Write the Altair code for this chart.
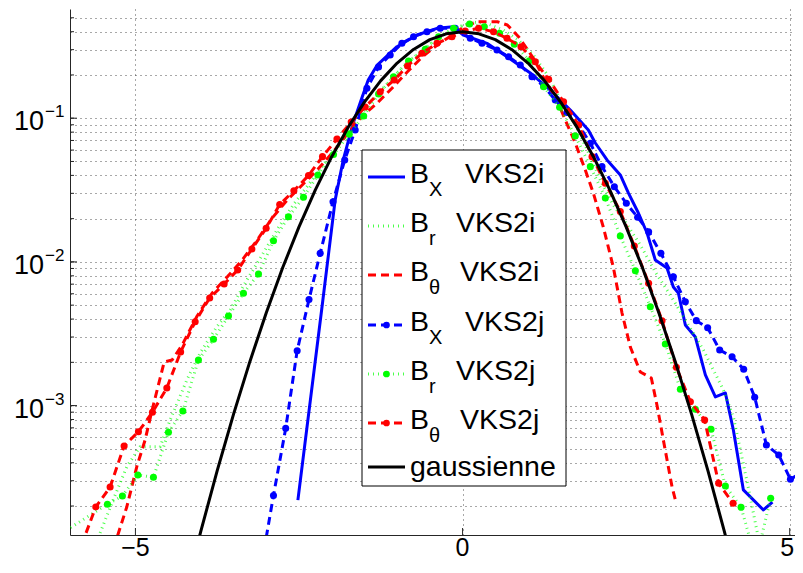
import altair as alt
import pandas as pd

FONT = "Liberation Sans"
BLUE, GREEN, RED, BLACK = "#0000ff", "#00ff00", "#ff0000", "#000000"

# ---------------- data ----------------
# B_X VKS2i (blue solid)
bx_i_x = [-2.517, -2.135, -1.947, -1.824, -1.671, -1.534, -1.442, -1.304, -1.003, -0.697,
          -0.391, -0.142, 0.011, 0.373, 0.679, 1.035, 1.341, 1.647, 1.922, 2.029,
          2.208, 2.411, 2.534, 2.687, 2.820, 2.946, 3.125, 3.222, 3.298, 3.405,
          3.558, 3.711, 3.864, 4.017, 4.139, 4.292, 4.598, 4.736]
bx_i_y = [2.20e-4, 5.43e-3, 0.0270, 0.0512, 0.0927, 0.1406, 0.1845, 0.2344, 0.3145, 0.3793,
          0.4222, 0.4332, 0.3793, 0.3319, 0.2679, 0.2064, 0.1570, 0.1140, 0.0828, 0.0672,
          0.0512, 0.0403, 0.0302, 0.0219, 0.01589, 0.01031, 0.00907, 0.00669, 0.00608, 0.00364,
          0.00300, 0.001633, 0.001148, 0.001224, 6.76e-4, 2.59e-4, 1.877e-4, 2.13e-4]

# B_r VKS2i (green dotted)
br_i_x = [-5.540, -5.341, -5.131, -4.928, -4.622, -4.469, -4.214, -4.011, -3.755, -3.552,
          -3.297, -3.063, -2.818, -2.589, -2.359, -2.130, -1.901, -1.671, -1.442, -1.213,
          -0.983, -0.754, -0.524, -0.295, -0.066, 0.164, 0.393, 0.622, 0.852, 1.081,
          1.310, 1.494, 1.723, 1.907, 2.106, 2.304, 2.518, 2.717, 2.946, 3.222,
          3.451, 3.681, 3.986, 4.139, 4.353, 4.506, 4.598]
br_i_y = [1.298e-4, 2.20e-4, 3.757e-4, 5.176e-4, 5.176e-4, 7.94e-4, 1.507e-3, 2.323e-3, 3.54e-3, 4.627e-3,
          7.48e-3, 0.01117, 0.01721, 0.02489, 0.03429, 0.04723, 0.0651, 0.0897, 0.1236, 0.1623,
          0.2097, 0.2624, 0.3231, 0.3793, 0.4312, 0.4668, 0.4521, 0.4110, 0.3501, 0.2754,
          0.1966, 0.1338, 0.0897, 0.06008, 0.03715, 0.02489, 0.01806, 0.0131, 8.51e-3, 5.43e-3,
          3.638e-3, 2.437e-3, 1.284e-3, 8.33e-4, 2.892e-4, 1.298e-4, 1.07e-4]

# B_theta VKS2i (red dashed)
bt_i_x = [-5.333, -5.131, -4.979, -4.852, -4.745, -4.622, -4.561, -4.439, -4.286, -4.057,
          -3.827, -3.598, -3.368, -3.139, -2.910, -2.680, -2.451, -2.222, -1.992, -1.763,
          -1.534, -1.304, -1.075, -0.846, -0.616, -0.387, -0.157, 0.041, 0.225, 0.531,
          0.684, 0.856, 1.081, 1.234, 1.443, 1.570, 1.723, 1.876, 1.998, 2.151,
          2.304, 2.437, 2.564, 2.717, 2.885, 2.977, 3.069, 3.202, 3.268]
bt_i_y = [1.02e-4, 1.979e-4, 3.757e-4, 5.762e-4, 9.32e-4, 1.556e-3, 2.011e-3, 2.077e-3, 2.64e-3, 4.202e-3,
          6.075e-3, 7.85e-3, 0.01031, 0.01421, 0.0202, 0.02697, 0.03429, 0.04359, 0.05725, 0.07762,
          0.1036, 0.1276, 0.1623, 0.2097, 0.2667, 0.3231, 0.3793, 0.4381, 0.4691, 0.4691,
          0.4453, 0.3692, 0.2624, 0.1935, 0.1338, 0.09716, 0.0672, 0.04359, 0.0302, 0.01749,
          9.21e-3, 4.41e-3, 2.557e-3, 1.713e-3, 1.556e-3, 9.78e-4, 5.762e-4, 2.713e-4, 2.066e-4]

# B_X VKS2j (blue dashed + dots)
bx_j_x = [-3.069, -2.890, -2.703, -2.528, -2.347, -2.176, -1.980, -1.801, -1.641, -1.462,
          -1.284, -1.106, -0.927, -0.749, -0.544, -0.341, -0.112, 0.118, 0.297, 0.526,
          0.703, 0.882, 1.061, 1.239, 1.417, 1.596, 1.774, 1.953, 2.131, 2.320,
          2.503, 2.676, 2.844, 3.031, 3.222, 3.405, 3.573, 3.746, 3.930, 4.119,
          4.297, 4.465, 4.644, 4.832, 5.011, 5.187, 5.360]
bx_j_y = [8.0e-5, 2.37e-4, 6.95e-4, 2.41e-3, 5.47e-3, 0.01148, 0.02624, 0.0512, 0.0828, 0.1614,
          0.2271, 0.2754, 0.3320, 0.3692, 0.3999, 0.4222, 0.4222, 0.3597, 0.3320, 0.2983,
          0.2679, 0.2344, 0.1944, 0.1675, 0.1338, 0.1096, 0.0897, 0.0669, 0.0460, 0.03337,
          0.02557, 0.02044, 0.01623, 0.01148, 0.00789, 0.00528, 0.0039, 0.003483, 0.002438, 0.002189,
          0.001789, 0.001143, 5.32e-4, 4.53e-4, 3.07e-4, 3.42e-4, 3.5e-4]

# B_r VKS2j (green dotted + dots)
br_j_x = [-6.120, -5.428, -5.199, -4.963, -4.725, -4.495, -4.275, -4.037, -3.807, -3.578,
          -3.349, -3.119, -2.890, -2.661, -2.431, -2.211, -1.972, -1.732, -1.511, -1.284,
          -1.055, -0.826, -0.570, -0.367, -0.138, 0.107, 0.332, 0.566, 0.791, 1.020,
          1.239, 1.483, 1.723, 1.953, 2.182, 2.411, 2.641, 2.870, 3.099, 3.329,
          3.558, 3.798, 4.017, 4.257, 4.484, 4.709]
br_j_y = [1.30e-4, 2.06e-4, 2.35e-4, 3.29e-4, 3.17e-4, 6.52e-4, 9.17e-4, 2.077e-3, 2.892e-3, 4.202e-3,
          6.045e-3, 8.236e-3, 0.01405, 0.02063, 0.02816, 0.04025, 0.05589, 0.07727, 0.1036, 0.1474,
          0.1944, 0.2500, 0.3017, 0.3692, 0.4222, 0.4521, 0.4332, 0.3898, 0.3267, 0.2512,
          0.1656, 0.1191, 0.07516, 0.0460, 0.02785, 0.01514, 8.687e-3, 4.88e-3, 2.683e-3, 1.299e-3,
          9.42e-4, 6.84e-4, 2.757e-4, 1.96e-4, 8.4e-5, 2.264e-4]

# B_theta VKS2j (red dashed + dots)
bt_j_x = [-5.824, -5.606, -5.387, -5.173, -4.954, -4.740, -4.520, -4.309, -4.087, -3.865,
          -3.644, -3.437, -3.220, -3.002, -2.795, -2.578, -2.355, -2.141, -1.920, -1.702,
          -1.488, -1.258, -1.044, -0.841, -0.621, -0.391, -0.162, 0.041, 0.245, 0.474,
          0.679, 0.893, 1.112, 1.315, 1.544, 1.774, 1.979, 2.182, 2.411, 2.625,
          2.844, 3.049, 3.268, 3.482, 3.700, 3.914, 4.135]
bt_j_y = [1.07e-4, 1.97e-4, 2.713e-4, 5.235e-4, 6.58e-4, 8.98e-4, 1.326e-3, 2.36e-3, 3.836e-3, 5.608e-3,
          7.02e-3, 8.78e-3, 0.0123, 0.01713, 0.02508, 0.0313, 0.03993, 0.0540, 0.07166, 0.0941,
          0.1197, 0.1529, 0.1844, 0.2309, 0.2829, 0.3320, 0.3692, 0.4044, 0.4222, 0.3999,
          0.3597, 0.3145, 0.2472, 0.1865, 0.1302, 0.0897, 0.0540, 0.03524, 0.02242, 0.0129,
          7.1e-3, 3.898e-3, 1.847e-3, 1.064e-3, 7.94e-4, 2.878e-4, 2.09e-4]

# gaussienne (black)
gauss_x = [-4.25, -4.0, -3.75, -3.5, -3.25, -3.0, -2.75, -2.5, -2.25, -2.0, -1.75, -1.5,
           -1.25, -1.0, -0.75, -0.5, -0.25, 0.0, 0.25, 0.5, 0.75, 1.0, 1.25, 1.5,
           1.75, 2.0, 2.25, 2.5, 2.75, 3.0, 3.25, 3.5, 3.75, 4.0, 4.25]
gauss_y = [4.77e-5, 1.338e-4, 3.526e-4, 8.727e-4, 2.029e-3, 4.432e-3, 9.094e-3, 0.01753, 0.03174,
           0.05399, 0.08628, 0.1295, 0.1826, 0.2420, 0.3011, 0.3521, 0.3867, 0.3989, 0.3867,
           0.3521, 0.3011, 0.2420, 0.1826, 0.1295, 0.08628, 0.05399, 0.03174, 0.01753, 0.009094,
           4.432e-3, 2.029e-3, 8.727e-4, 3.526e-4, 1.338e-4, 4.77e-5]

# axes
X_DOMAIN = [-6.0, 5.081]
Y_DOMAIN = [1.257e-4, 0.5754]
X_TICKS = [-5, 0, 5]
X_TICK_LABELS = ["\u22125", "0", "5"]
Y_GRID = [2e-4, 3e-4, 4e-4, 5e-4, 6e-4, 7e-4, 8e-4, 9e-4,
          1e-3, 2e-3, 3e-3, 4e-3, 5e-3, 6e-3, 7e-3, 8e-3, 9e-3,
          1e-2, 2e-2, 3e-2, 4e-2, 5e-2, 6e-2, 7e-2, 8e-2, 9e-2,
          0.1, 0.2, 0.3, 0.4, 0.5]
Y_MAJOR = [1e-3, 1e-2, 1e-1]
Y_MAJOR_EXP = ["\u22123", "\u22122", "\u22121"]

LEGEND_SUB = ["X", "r", "\u03b8", "X", "r", "\u03b8"]
LEGEND_RUN = ["VKS2i", "VKS2i", "VKS2i", "VKS2j", "VKS2j", "VKS2j"]
LEGEND_LAST = "gaussienne"

# ---------------- layout / style ----------------
W, H = 725, 526
xs = alt.Scale(domain=X_DOMAIN, nice=False, zero=False)
ys = alt.Scale(type="log", domain=Y_DOMAIN, nice=False)
x_axis = alt.Axis(values=X_TICKS, grid=True, ticks=False, tickSize=0, labels=False, title=None)
y_axis = alt.Axis(values=Y_GRID, grid=True, ticks=False, tickSize=0, labels=False, title=None)

ONE = pd.DataFrame({"k": [0]})


def df_of(xv, yv):
    return pd.DataFrame({"x": xv, "y": yv, "i": list(range(len(xv)))})


def enc_xy():
    return dict(x=alt.X("x:Q", scale=xs, axis=x_axis), y=alt.Y("y:Q", scale=ys, axis=y_axis))


series = [
    dict(x=bx_i_x, y=bx_i_y, color=BLUE, dash=None, width=3.0, op=1.0, marker=False),
    dict(x=br_i_x, y=br_i_y, color=GREEN, dash=[1, 4], width=3.0, op=0.7, marker=False),
    dict(x=bt_i_x, y=bt_i_y, color=RED, dash=[8, 5], width=3.0, op=1.0, marker=False),
    dict(x=bx_j_x, y=bx_j_y, color=BLUE, dash=[8, 5], width=3.0, op=1.0, marker=True),
    dict(x=br_j_x, y=br_j_y, color=GREEN, dash=[1, 4], width=3.0, op=0.7, marker=True),
    dict(x=bt_j_x, y=bt_j_y, color=RED, dash=[8, 5], width=3.0, op=1.0, marker=True),
    dict(x=gauss_x, y=gauss_y, color=BLACK, dash=None, width=3.0, op=1.0, marker=False),
]

layers = []

# inward tick marks
layers.append(alt.Chart(pd.DataFrame({"y": Y_GRID})).mark_rule(color="#262626", strokeWidth=1).encode(
    y=alt.Y("y:Q", scale=ys, axis=y_axis), x=alt.value(0), x2=alt.value(4)))
layers.append(alt.Chart(pd.DataFrame({"y": Y_MAJOR})).mark_rule(color="#262626", strokeWidth=1).encode(
    y=alt.Y("y:Q", scale=ys, axis=y_axis), x=alt.value(0), x2=alt.value(7)))
layers.append(alt.Chart(pd.DataFrame({"x": X_TICKS})).mark_rule(color="#262626", strokeWidth=1).encode(
    x=alt.X("x:Q", scale=xs, axis=x_axis), y=alt.value(H), y2=alt.value(H - 7)))

# x tick labels (the last one nudged so it stays inside the page)
xlab_df = pd.DataFrame({"x": X_TICKS, "t": X_TICK_LABELS})
for sub, dx in ((xlab_df.iloc[:2], 0), (xlab_df.iloc[2:], -2.5)):
    layers.append(alt.Chart(sub).mark_text(align="center", baseline="bottom", font=FONT,
                                           fontSize=25, color="black", dx=dx).encode(
        x=alt.X("x:Q", scale=xs, axis=x_axis), y=alt.value(H + 26), text="t:N"))

# y labels 10^n
lab_df = pd.DataFrame({"y": Y_MAJOR, "e": Y_MAJOR_EXP})
layers.append(alt.Chart(lab_df).mark_text(align="right", baseline="alphabetic", font=FONT,
                                          fontSize=27, color="black", dy=12).encode(
    y=alt.Y("y:Q", scale=ys, axis=y_axis), x=alt.value(-26), text=alt.value("10")))
layers.append(alt.Chart(lab_df).mark_text(align="left", baseline="alphabetic", font=FONT,
                                          fontSize=17, color="black", dy=-1).encode(
    y=alt.Y("y:Q", scale=ys, axis=y_axis), x=alt.value(-25), text="e:N"))

# data series
for s in series:
    kw = dict(color=s["color"], strokeWidth=s["width"], opacity=s["op"], clip=True,
              strokeJoin="round")
    if s["dash"]:
        kw["strokeDash"] = s["dash"]
    d = df_of(s["x"], s["y"])
    layers.append(alt.Chart(d).mark_line(**kw).encode(order="i:Q", **enc_xy()))
    if s["marker"]:
        layers.append(alt.Chart(d).mark_circle(color=s["color"], size=50, opacity=1,
                                               clip=True).encode(**enc_xy()))

# legend
BOX = (292, 141, 496, 477)
ROWS = [168, 217, 266, 316, 365, 414, 458]
layers.append(alt.Chart(ONE).mark_rect(fill="white", stroke="black", strokeWidth=1).encode(
    x=alt.value(BOX[0]), x2=alt.value(BOX[2]), y=alt.value(BOX[1]), y2=alt.value(BOX[3])))
VKS_X = {"X": 395, "r": 386, "\u03b8": 390}
for k, s in enumerate(series):
    ry = ROWS[k]
    kw = dict(color=s["color"], strokeWidth=s["width"], opacity=s["op"])
    if s["dash"]:
        kw["strokeDash"] = s["dash"]
    layers.append(alt.Chart(ONE).mark_rule(**kw).encode(
        x=alt.value(298), x2=alt.value(335), y=alt.value(ry)))
    if s["marker"]:
        layers.append(alt.Chart(ONE).mark_circle(color=s["color"], size=45, opacity=1).encode(
            x=alt.value(316.5), y=alt.value(ry)))
    if k < 6:
        txt = dict(align="left", baseline="alphabetic", font=FONT, color="black")
        layers.append(alt.Chart(ONE).mark_text(fontSize=28.5, **txt).encode(
            x=alt.value(340), y=alt.value(ry + 5.5), text=alt.value("B")))
        layers.append(alt.Chart(ONE).mark_text(fontSize=20, **txt).encode(
            x=alt.value(359), y=alt.value(ry + 18.5), text=alt.value(LEGEND_SUB[k])))
        layers.append(alt.Chart(ONE).mark_text(fontSize=28.5, **txt).encode(
            x=alt.value(VKS_X[LEGEND_SUB[k]]), y=alt.value(ry + 5.5), text=alt.value(LEGEND_RUN[k])))
    else:
        layers.append(alt.Chart(ONE).mark_text(fontSize=28.5, align="left", baseline="alphabetic",
                                               font=FONT, color="black").encode(
            x=alt.value(340), y=alt.value(ry + 8.5), text=alt.value(LEGEND_LAST)))

chart = alt.layer(*layers).properties(
    width=W, height=H,
    autosize=alt.AutoSizeParams(type="none"),
    padding={"left": 62, "top": 1, "right": 0, "bottom": 26},
    background="white",
).configure_view(stroke=None).configure_axis(
    gridColor="#333333", gridDash=[1, 4], gridWidth=1, gridOpacity=0.85,
    domainColor="#262626", domainWidth=1,
    labelFont=FONT, labelFontSize=25, labelColor="black",
)

chart.save("out.html", embed_options={"renderer": "svg", "actions": False})
